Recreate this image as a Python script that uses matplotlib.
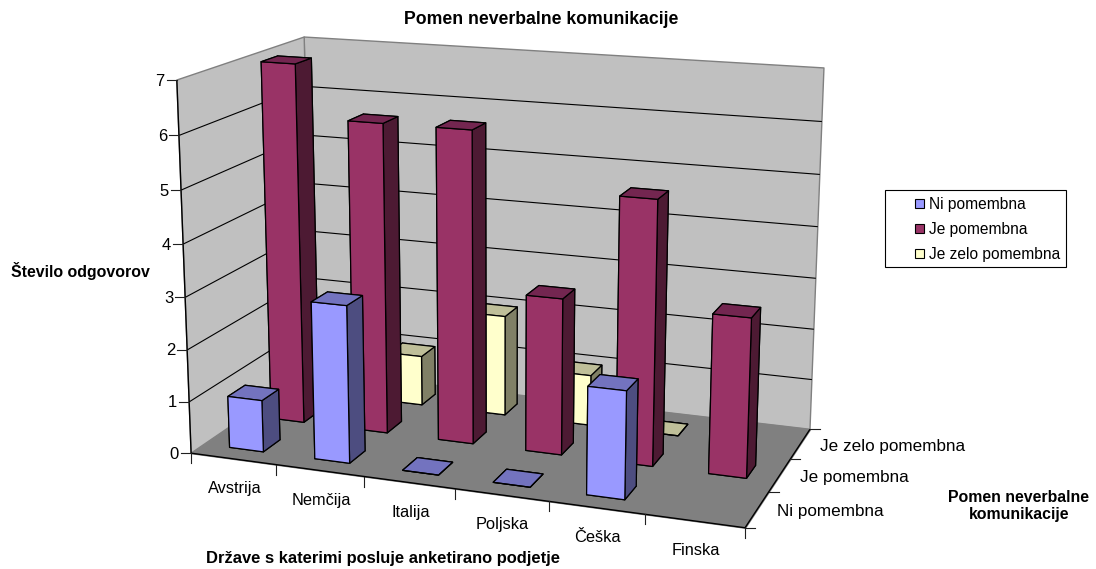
import numpy as np
import matplotlib
matplotlib.use('Agg')
from matplotlib import pyplot as plt
from matplotlib.patches import Rectangle
from mpl_toolkits.mplot3d.art3d import Poly3DCollection, Line3DCollection

plt.rcParams['font.family'] = ['Liberation Sans', 'DejaVu Sans']

W, H = 1096, 569

drzave = ['Avstrija', 'Nemčija', 'Italija', 'Poljska', 'Češka', 'Finska']
serije = ['Ni pomembna', 'Je pomembna', 'Je zelo pomembna']
# None = no answer recorded, 0 = flat plate on the floor
ni_pomembna = [1, 3, 0, 0, 2, None]
je_pomembna = [7, 6, 6, 3, 5, 3]
je_zelo_pomembna = [None, 1, 2, 1, 0, None]
z_ticks = [0, 1, 2, 3, 4, 5, 6, 7]

# front, top and side colour of each series
barve = [('#9999FF', '#7373BF', '#4D4D80'),
         ('#993366', '#732650', '#4D1A33'),
         ('#FFFFCC', '#BFBF99', '#808066')]

NX, NY, NZ = len(drzave), len(serije), z_ticks[-1]
SIRINA = 0.4  # gap width 150%

# camera: solve the projection from where the box corners should land on the page
box_3d = [(0, 0, 0), (NX, 0, 0), (NX, NY, 0), (0, NY, 0),
          (0, 0, NZ), (0, NY, NZ), (NX, NY, NZ)]
box_px = [(191, 453), (745, 528), (810, 429), (312, 371),
          (177, 80), (304, 37), (824, 68)]
A = []
for (x, y, z), (u, v) in zip(box_3d, box_px):
    v = H - v
    A.append([x, y, z, 1, 0, 0, 0, 0, -u*x, -u*y, -u*z, -u])
    A.append([0, 0, 0, 0, x, y, z, 1, -v*x, -v*y, -v*z, -v])
P = np.linalg.svd(np.array(A, dtype=float))[2][-1].reshape(3, 4)
if P[2] @ [NX/2, NY/2, 0, 1] < 0:
    P = -P
P = P / abs(P[2] @ [NX/2, NY/2, 0, 1])


def to_px(x, y, z):
    q = P @ [x, y, z, 1]
    return q[0]/q[2], H - q[1]/q[2]


fig = plt.figure(figsize=(W/100, H/100), dpi=100)
ax = fig.add_axes([0, 0, 1, 1], projection='3d')
ax.set_axis_off()
ax.computed_zorder = False
ax.apply_aspect = lambda position=None: None
ax.viewLim.intervalx = (0, W)
ax.viewLim.intervaly = (0, H)
M = np.vstack([P[0], P[1], [0, 0, 0, -1], P[2]])
ax.get_proj = lambda: M

# walls and floor
lijeva = [(0, 0, 0), (0, NY, 0), (0, NY, NZ), (0, 0, NZ)]
zadnja = [(0, NY, 0), (NX, NY, 0), (NX, NY, NZ), (0, NY, NZ)]
pod = [(0, 0, 0), (NX, 0, 0), (NX, NY, 0), (0, NY, 0)]
ax.add_collection3d(Poly3DCollection([lijeva, zadnja], facecolor='#C0C0C0',
                                     edgecolor='#808080', linewidth=1, zorder=0))
ax.add_collection3d(Poly3DCollection([pod], facecolor='#808080', edgecolor='#808080',
                                     linewidth=1, zorder=1))
mreza = [[(0, 0, z), (0, NY, z), (NX, NY, z)] for z in z_ticks[1:-1]]
ax.add_collection3d(Line3DCollection(mreza, colors='black', linewidths=0.8, zorder=2))
robovi = [[(0, 0, 0), (NX, 0, 0)], [(NX, 0, 0), (NX, NY, 0)], [(0, 0, 0), (0, 0, NZ)]]
ax.add_collection3d(Line3DCollection(robovi, colors='black', linewidths=1, zorder=3))

# bars, back row first and left to right so nearer ones paint over
vrednosti = [ni_pomembna, je_pomembna, je_zelo_pomembna]
red = 10
for j in reversed(range(NY)):
    spredaj, zgoraj, stran = barve[j]
    for i in range(NX):
        val = vrednosti[j][i]
        red += 1
        if val is None:
            continue
        ax.bar3d(i + 0.3, j + 0.3, 0, SIRINA, SIRINA, val, shade=False,
                 color=[zgoraj, zgoraj, spredaj, spredaj, stran, stran],
                 edgecolor='black', linewidth=0.9, zorder=red)

# ticks, labels and legend sit on a flat overlay in page pixels
ov = fig.add_axes([0, 0, 1, 1], facecolor='none')
ov.set_xlim(0, W)
ov.set_ylim(H, 0)
ov.axis('off')

for z in z_ticks:
    u, v = to_px(0, 0, z)
    ov.plot([u - 10, u], [v, v], color='#202020', lw=0.8)
    ov.text(u - 12, v + 1, str(z), ha='right', va='center', fontsize=12)
for i in range(NX + 1):
    u, v = to_px(i, 0, 0)
    ov.plot([u, u], [v, v + 10], color='#202020', lw=0.8)
for i, ime in enumerate(drzave):
    u, v = to_px(i + 0.5, 0, 0)
    ov.text(u + 1, v + 30, ime, ha='center', va='center', fontsize=11.8)
for j in range(NY + 1):
    u, v = to_px(NX, j, 0)
    ov.plot([u, u + 10], [v, v], color='#202020', lw=0.8)
for j, ime in enumerate(serije):
    u, v = to_px(NX, j + 0.5, 0)
    ov.text(u + 20, v + 2, ime, ha='left', va='center', fontsize=12.3)

ov.text(541, 19, 'Pomen neverbalne komunikacije', ha='center', va='center',
        fontsize=12.7, fontweight='bold')
ov.text(11, 271, 'Število odgovorov', ha='left', va='center',
        fontsize=11.4, fontweight='bold')
ov.text(383, 559, 'Države s katerimi posluje anketirano podjetje', ha='center', va='center',
        fontsize=11.85, fontweight='bold')
ov.text(1019, 506, 'Pomen neverbalne\nkomunikacije', ha='center', va='center',
        linespacing=1.2, fontsize=11.4, fontweight='bold')

ov.add_patch(Rectangle((885, 190), 181, 77, facecolor='white', edgecolor='black', lw=0.8))
for j, ime in enumerate(serije):
    yy = 204 + 25*j
    ov.add_patch(Rectangle((915, yy - 5), 9, 9, facecolor=barve[j][0], edgecolor='black', lw=0.8))
    ov.text(929, yy, ime, ha='left', va='center', fontsize=11.2)

fig.savefig('out.png', dpi=100)
